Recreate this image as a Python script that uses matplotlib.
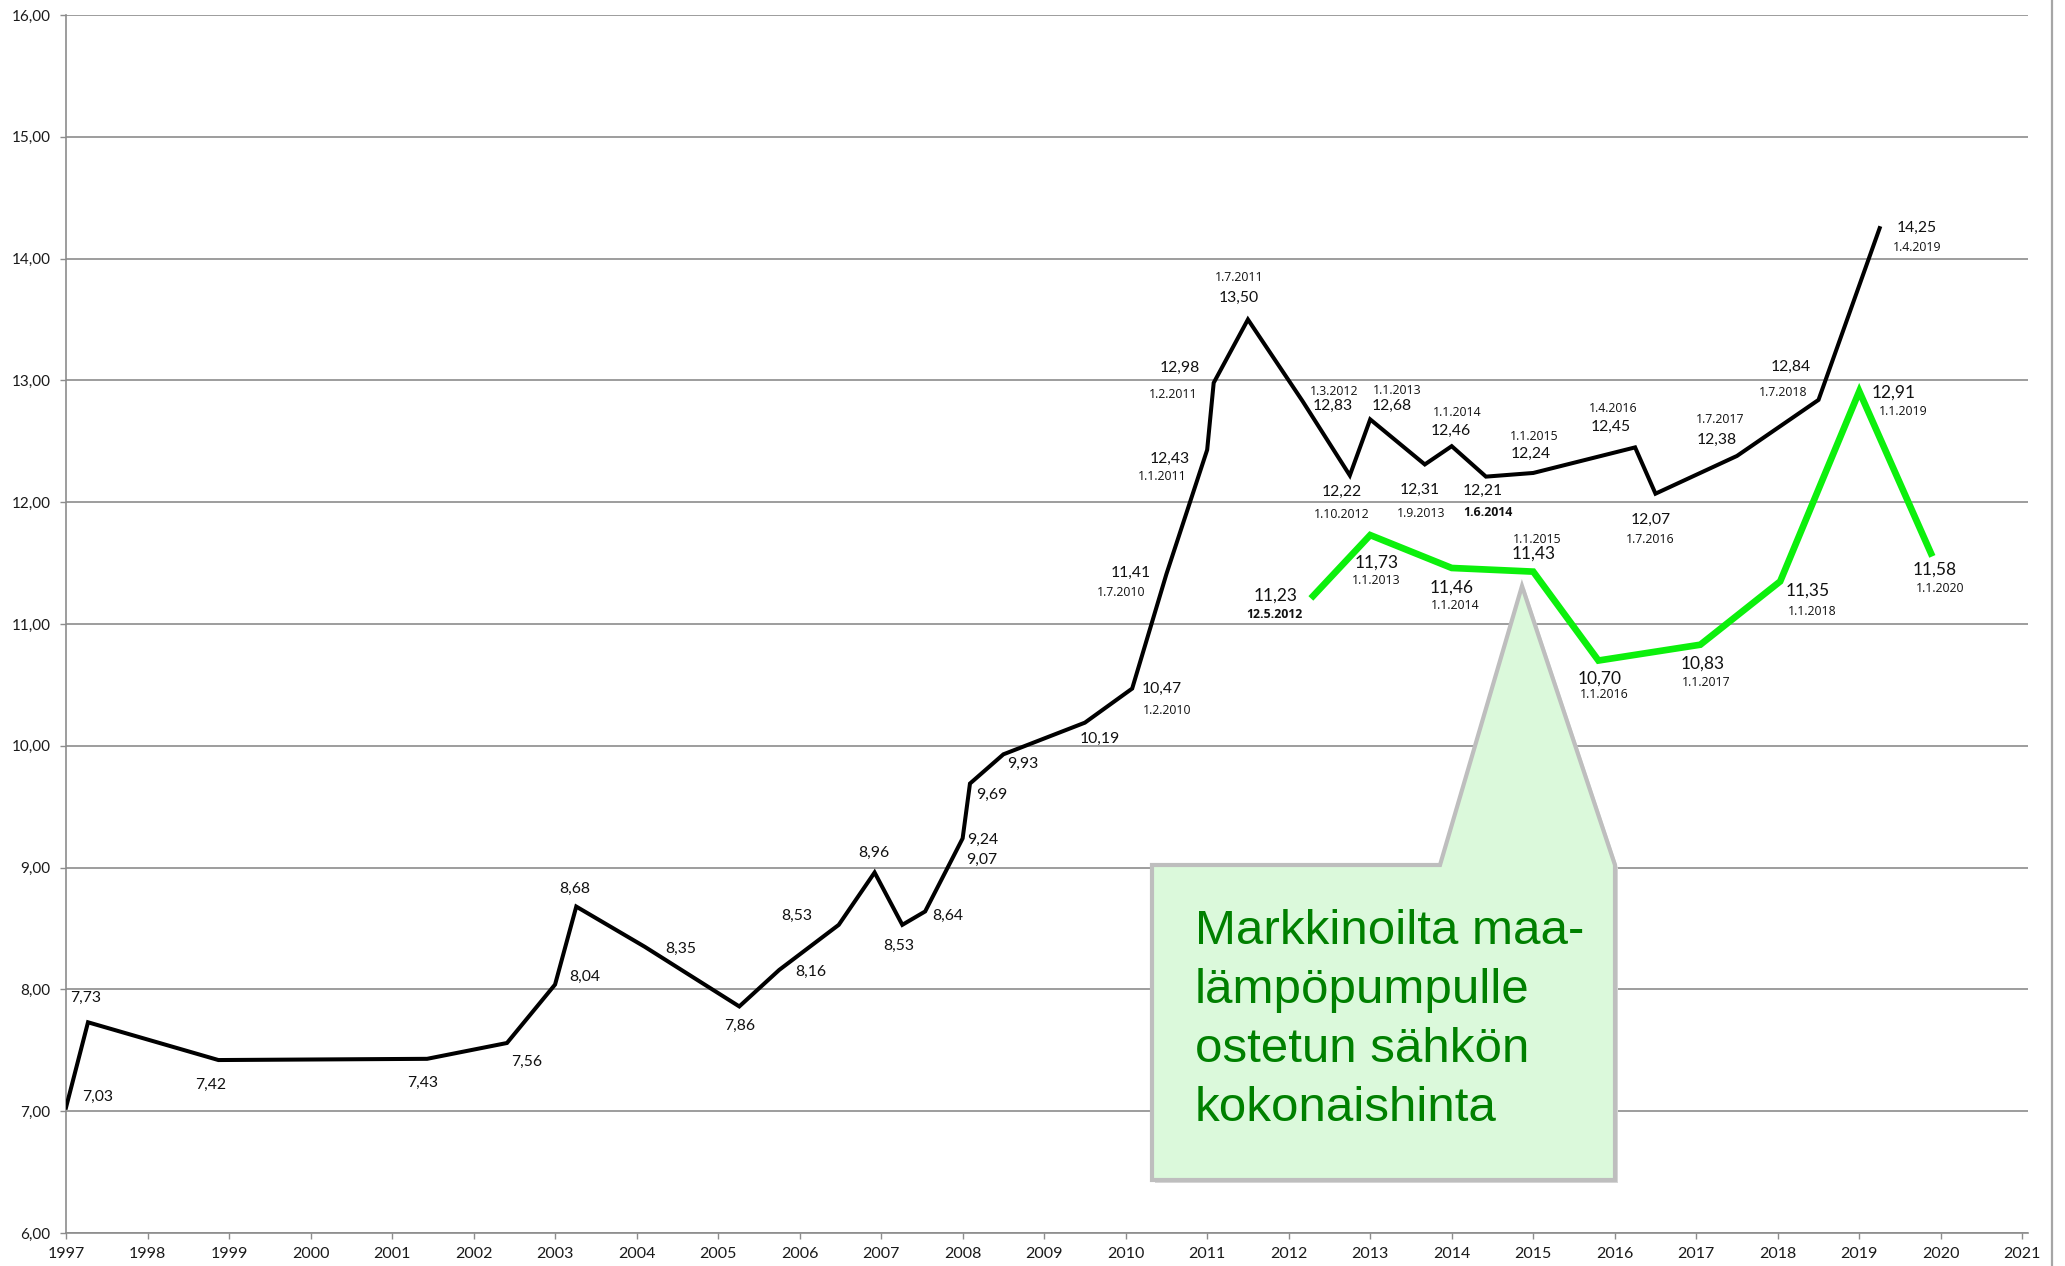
import matplotlib
matplotlib.use("Agg")
import matplotlib.pyplot as plt
from matplotlib.patches import Polygon
from matplotlib.lines import Line2D

# ---------------- data ----------------
black_x = [1997.0, 1997.27, 1998.87, 2001.43, 2002.41, 2003.0, 2003.26, 2004.1,
           2005.26, 2005.75, 2006.48, 2006.92, 2007.26, 2007.54, 2007.87, 2008.0,
           2008.09, 2008.5, 2009.5, 2010.08, 2010.5, 2011.0, 2011.08, 2011.5,
           2012.17, 2012.75, 2013.0, 2013.67, 2014.0, 2014.42, 2015.0, 2016.25,
           2016.5, 2017.5, 2018.5, 2019.25]
black_y = [7.03, 7.73, 7.42, 7.43, 7.56, 8.04, 8.68, 8.35,
           7.86, 8.16, 8.53, 8.96, 8.53, 8.64, 9.07, 9.24,
           9.69, 9.93, 10.19, 10.47, 11.41, 12.43, 12.98, 13.50,
           12.83, 12.22, 12.68, 12.31, 12.46, 12.21, 12.24, 12.45,
           12.07, 12.38, 12.84, 14.25]
black_dates = [None] * 19 + ['1.2.2010', '1.7.2010', '1.1.2011', '1.2.2011', '1.7.2011',
                             '1.3.2012', '1.10.2012', '1.1.2013', '1.9.2013', '1.1.2014',
                             '1.6.2014', '1.1.2015', '1.4.2016', '1.7.2016', '1.7.2017',
                             '1.7.2018', '1.4.2019']

green_x = [2012.3, 2013.0, 2014.0, 2015.0, 2015.8, 2017.05, 2018.03, 2019.0, 2019.88]
green_y = [11.23, 11.73, 11.46, 11.43, 10.70, 10.83, 11.35, 12.91, 11.58]
green_dates = ['12.5.2012', '1.1.2013', '1.1.2014', '1.1.2015', '1.1.2016',
               '1.1.2017', '1.1.2018', '1.1.2019', '1.1.2020']

y_ticks = [6, 7, 8, 9, 10, 11, 12, 13, 14, 15, 16]
x_ticks = list(range(1997, 2022))
callout_text = "Markkinoilta maa-\nlämpöpumpulle\nostetun sähkön\nkokonaishinta"

# ---------------- label placement (pixels, dx right, dy up) ----------------
black_val_off = [(32, 11), (-2, 24), (-8, -25), (-4, -24), (20, -19), (30, 8), (-2, 18), (36, -2),
                 (0, -19), (32, -2), (-42, 9), (-1, 20), (-4, -21), (23, -4), (30, -1), (20, -2),
                 (22, -11), (19, -10), (15, -16), (30, 0), (-36, 1), (-37, -9), (-34, 15), (-9, 22),
                 (30, -5), (-8, -16), (22, 13), (-5, -25), (-1, 15), (-3, -14), (-2, 19), (-24, 20),
                 (-5, -26), (-20, 16), (-28, 33), (37, 0)]
black_date_off = [None] * 19 + [(35, -22), (-45, -18), (-45, -27), (-41, -12), (-9, 42),
                                (32, 10), (-8, -39), (27, 29), (-4, -49), (5, 34),
                                (2, -36), (1, 36), (-22, 39), (-5, -46), (-17, 36),
                                (-35, 7), (37, -19)]
green_val_off = [(-38, 0), (6, -28), (0, -20), (0, 18), (1, -18), (2, -19), (27, -9), (34, -1), (4, -16)]
green_date_off = [(-39, -19), (6, -45), (3, -38), (4, 32), (6, -34), (6, -38), (32, -30), (44, -20), (9, -35)]
bold_dates = {'12.5.2012', '1.6.2014'}

W, H = 2065, 1266
fig = plt.figure(figsize=(W / 100, H / 100), dpi=100)
fig.patch.set_facecolor('white')
ax_left, ax_right, ax_top, ax_bot = 66, 2028, 15, 1233
ax = fig.add_axes([ax_left / W, 1 - ax_bot / H, (ax_right - ax_left) / W, (ax_bot - ax_top) / H])

grid_col = '#8c8c8c'
ax.set_xlim(1997, 2021.07)
ax.set_ylim(6, 16)
ax.set_yticks(y_ticks)
ax.set_yticklabels([f"{v:.2f}".replace('.', ',') for v in y_ticks])
ax.set_xticks(x_ticks)
ax.set_xticklabels([str(v) for v in x_ticks])
for lab in ax.get_yticklabels():
    lab.set_fontfamily('Lato')
    lab.set_fontsize(11)
    lab.set_color('#1a1a1a')
for lab in ax.get_xticklabels():
    lab.set_fontfamily('Lato')
    lab.set_fontsize(11.5)
    lab.set_color('#1a1a1a')
ax.tick_params(axis='y', direction='out', length=4.3, width=1.0, color=grid_col, pad=7)
ax.tick_params(axis='x', direction='out', length=4, width=1.0, color=grid_col, pad=6)
ax.yaxis.grid(True, color=grid_col, lw=1.2)
ax.set_axisbelow(True)
for s in ['top', 'right']:
    ax.spines[s].set_visible(False)
for s in ['left', 'bottom']:
    ax.spines[s].set_color(grid_col)
    ax.spines[s].set_linewidth(1.2)

# lines
ax.plot(black_x, black_y, color='black', lw=2.9, solid_joinstyle='miter', zorder=5)
ax.plot(green_x, green_y, color='#0CF00C', lw=4.8, solid_joinstyle='miter', zorder=5)


def fmt(v):
    return f"{v:.2f}".replace('.', ',')


DATE_FONT = ['Open Sans', 'DejaVu Sans']
for x, y, d, vo, do in zip(black_x, black_y, black_dates, black_val_off, black_date_off):
    ax.annotate(fmt(y), (x, y), xytext=vo, textcoords='offset pixels', ha='center', va='center',
                fontsize=11.3, family='Lato', color='#111111', zorder=6)
    if d is not None:
        ax.annotate(d, (x, y), xytext=do, textcoords='offset pixels', ha='center', va='center',
                    fontsize=8.8, family=DATE_FONT, color='#111111', zorder=6,
                    fontweight='bold' if d in bold_dates else 'normal')

for x, y, d, vo, do in zip(green_x, green_y, green_dates, green_val_off, green_date_off):
    ax.annotate(fmt(y), (x, y), xytext=vo, textcoords='offset pixels', ha='center', va='center',
                fontsize=12.5, family='Lato', color='#111111', zorder=6)
    ax.annotate(d, (x, y), xytext=do, textcoords='offset pixels', ha='center', va='center',
                fontsize=8.8, family=DATE_FONT, color='#111111', zorder=6,
                fontweight='bold' if d in bold_dates else 'normal')

# callout (figure pixel positions -> figure fraction)
def fp(px, py):
    return (px / W, 1 - py / H)

poly_px = [(1152, 865), (1440, 865), (1522, 586), (1615, 865), (1615, 1180), (1152, 1180)]
shadow = Polygon([fp(px + 3, py + 3) for px, py in poly_px], closed=True, transform=fig.transFigure,
                 facecolor='#d8d8d8', edgecolor='none', zorder=7)
callout = Polygon([fp(px, py) for px, py in poly_px], closed=True, transform=fig.transFigure,
                  facecolor='#DBF9DB', edgecolor='#BEBEBE', lw=3.0, joinstyle='miter', zorder=8)
fig.add_artist(shadow)
fig.add_artist(callout)
fig.text(1195 / W, 1 - 1020 / H, callout_text, ha='left', va='center', fontsize=35.5,
         family='Liberation Sans', color='#008000', linespacing=1.4, zorder=9)

# outer right border
fig.add_artist(Line2D([2052 / W, 2052 / W], [0, 1], transform=fig.transFigure, color='#a6a6a6', lw=1.6))

fig.savefig('out.png', dpi=100, facecolor='white')
